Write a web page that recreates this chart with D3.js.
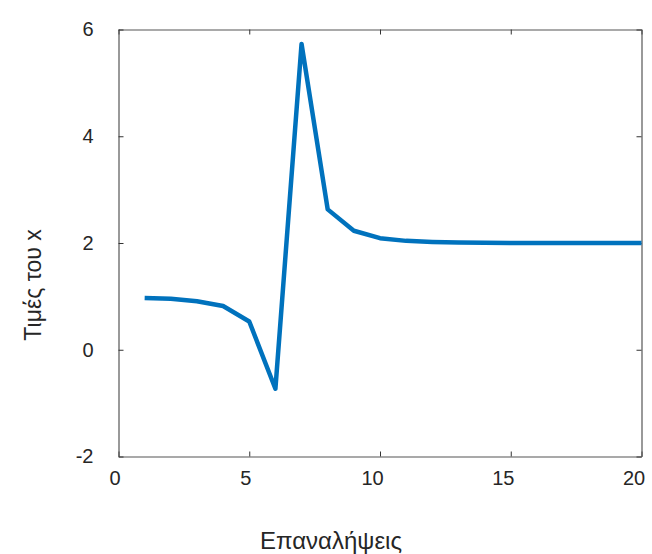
<!DOCTYPE html>
<html lang="el">
<head>
    <meta charset="UTF-8">
    <title>Τιμές του x</title>
    <script src="https://cdn.jsdelivr.net/npm/d3@7"></script>
    <style>
        body { margin: 0; background: #fff; }
        svg text { font-family: "Liberation Sans", Arial, sans-serif; fill: #262626; }
    </style>
</head>
<body>
    <svg width="652" height="554"></svg>
    <script>
        // iterations and values of x
        var iterations = d3.range(1, 21);
        var xValues = [0.97, 0.955, 0.91, 0.82, 0.53, -0.73, 5.73, 2.63, 2.23, 2.09,
                       2.04, 2.02, 2.01, 2.005, 2.0, 2.0, 2.0, 2.0, 2.0, 2.0];
        var xTicks = [0, 5, 10, 15, 20];
        var yTicks = [-2, 0, 2, 4, 6];

        var mLeft = 118.5, mRight = 641.5, mTop = 29.5, mBottom = 456.5;

        var svg = d3.select("svg");

        var x = d3.scaleLinear().domain([0, 20]).range([mLeft, mRight]);
        var y = d3.scaleLinear().domain([-2, 6]).range([mBottom, mTop]);

        // axes (box with inward ticks)
        var xAxis = svg.append("g")
            .attr("transform", "translate(0," + mBottom + ")")
            .call(d3.axisBottom(x).tickValues(xTicks).tickFormat(String)
                .tickSizeInner(-5).tickSizeOuter(0).tickPadding(14));
        svg.append("g")
            .attr("transform", "translate(0," + mTop + ")")
            .call(d3.axisTop(x).tickValues(xTicks).tickSizeInner(-5).tickSizeOuter(0).tickFormat(""));
        svg.append("g")
            .attr("transform", "translate(" + mLeft + ",0)")
            .call(d3.axisLeft(y).tickValues(yTicks).tickFormat(String)
                .tickSizeInner(-5).tickSizeOuter(0).tickPadding(25));
        svg.append("g")
            .attr("transform", "translate(" + mRight + ",0)")
            .call(d3.axisRight(y).tickValues(yTicks).tickSizeInner(-5).tickSizeOuter(0).tickFormat(""));

        svg.selectAll(".domain").attr("stroke", "#555").attr("stroke-width", 1.2);
        svg.selectAll(".tick line").attr("stroke", "#333");
        svg.selectAll(".tick text").attr("font-size", 20).attr("fill", "#262626")
            .attr("font-family", "Liberation Sans, Arial, sans-serif");
        // x labels sit a bit left of their ticks, like the original
        xAxis.selectAll(".tick text").attr("dx", function(d) { return d >= 10 ? -8 : -4; });

        // data line
        var line = d3.line()
            .x(function(d, i) { return x(iterations[i]); })
            .y(function(d) { return y(d); });

        svg.append("path")
            .datum(xValues)
            .attr("fill", "none")
            .attr("stroke", "#0072BD")
            .attr("stroke-width", 4.5)
            .attr("stroke-linejoin", "round")
            .attr("d", line);

        // axis labels
        svg.append("text")
            .attr("x", 331)
            .attr("y", 549)
            .attr("text-anchor", "middle")
            .attr("font-size", 24)
            .text("Επαναλήψεις");

        svg.append("text")
            .attr("transform", "translate(41,285) rotate(-90)")
            .attr("text-anchor", "middle")
            .attr("font-size", 23)
            .text("Τιμές του x");
    </script>
</body>
</html>
